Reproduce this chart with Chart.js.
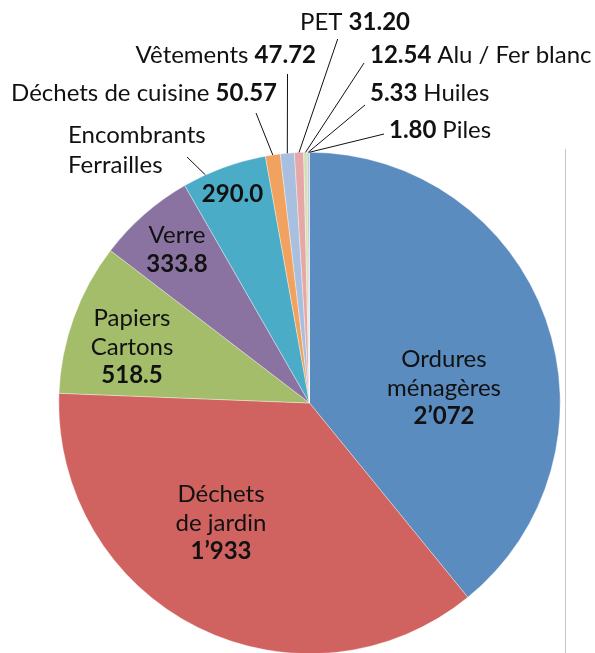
<!DOCTYPE html>
<html>
<head>
<meta charset="utf-8">
<script src="https://cdn.jsdelivr.net/npm/chart.js@4"></script>
<style>
	html, body { margin: 0; padding: 0; background: #fff; overflow: hidden; }
	canvas { display: block; }
</style>
</head>
<body>
<canvas id="camembert" width="595" height="655"></canvas>
<script>
// donnees (tonnes)
const categories = ['Ordures\nménagères', 'Déchets\nde jardin', 'Papiers\nCartons', 'Verre', 'Encombrants\nFerrailles',
	'Déchets de cuisine', 'Vêtements', 'PET', 'Alu / Fer blanc', 'Huiles', 'Piles'];
const values = [2072, 1933, 518.5, 333.8, 290.0, 50.57, 47.72, 31.20, 12.54, 5.33, 1.80];
const valueLabels = ['2’072', '1’933', '518.5', '333.8', '290.0', '50.57', '47.72', '31.20', '12.54', '5.33', '1.80'];
const colors = ['#5a8cbf', '#d0625f', '#a4bd6a', '#8a73a0', '#4aacc6', '#f0a25e',
	'#a9bfe0', '#e5a8a6', '#d2e0b4', '#b9a9cc', '#93cddd'];

// placement des etiquettes
const labelLayout = [
	{ mode: 'stack', x: 444, y: 367 },
	{ mode: 'stack', x: 221, y: 502 },
	{ mode: 'stack', x: 132, y: 326 },
	{ mode: 'stack', x: 177, y: 243 },
	{ mode: 'split', x: 68, y: 143, align: 'left', vx: 232.5, vy: 202, from: [187, 157], frac: 0.27 },
	{ mode: 'nameVal', x: 277, y: 101, align: 'right', from: [256, 113] },
	{ mode: 'nameVal', x: 316, y: 63, align: 'right', from: [287.5, 74] },
	{ mode: 'nameVal', x: 300, y: 30, align: 'left', from: [337.7, 39] },
	{ mode: 'valName', x: 370, y: 63, align: 'left', from: [364, 63] },
	{ mode: 'valName', x: 370, y: 101, align: 'left', from: [365, 105] },
	{ mode: 'valName', x: 389, y: 138, align: 'left', from: [384, 134] },
];

const FONT_SIZE = 24;
const LINE_H = 28.5;
const fontOf = (bold) => (bold ? 'bold ' : '') + FONT_SIZE + 'px Lato';

function drawRuns(ctx, runs, x, y, align) {
	let total = 0;
	runs.forEach(r => { ctx.font = fontOf(r.b); total += ctx.measureText(r.t).width; });
	let cx = align === 'left' ? x : align === 'right' ? x - total : x - total / 2;
	runs.forEach(r => {
		ctx.font = fontOf(r.b);
		ctx.fillText(r.t, cx, y);
		cx += ctx.measureText(r.t).width;
	});
}

const labelsPlugin = {
	id: 'labelsPlugin',
	afterDraw(chart) {
		const ctx = chart.ctx;
		const arcs = chart.getDatasetMeta(0).data;
		ctx.save();
		// trait vertical gris a droite
		ctx.strokeStyle = '#c8c8c8';
		ctx.lineWidth = 1;
		ctx.beginPath();
		ctx.moveTo(565.5, 149);
		ctx.lineTo(565.5, 655);
		ctx.stroke();

		ctx.fillStyle = '#111';
		ctx.textBaseline = 'alphabetic';
		labelLayout.forEach((lay, i) => {
			const arc = arcs[i];
			const name = categories[i].split('\n');
			const val = valueLabels[i];
			if (lay.from) {
				const f = lay.frac === undefined ? 0.5 : lay.frac;
				const a = arc.startAngle + (arc.endAngle - arc.startAngle) * f;
				ctx.strokeStyle = '#111';
				ctx.lineWidth = 1;
				ctx.beginPath();
				ctx.moveTo(lay.from[0], lay.from[1]);
				ctx.lineTo(arc.x + arc.outerRadius * Math.cos(a), arc.y + arc.outerRadius * Math.sin(a));
				ctx.stroke();
			}
			if (lay.mode === 'stack') {
				name.forEach((t, k) => drawRuns(ctx, [{ t, b: false }], lay.x, lay.y + k * LINE_H, 'center'));
				drawRuns(ctx, [{ t: val, b: true }], lay.x, lay.y + name.length * LINE_H, 'center');
			} else if (lay.mode === 'split') {
				name.forEach((t, k) => drawRuns(ctx, [{ t, b: false }], lay.x, lay.y + k * 30, lay.align));
				drawRuns(ctx, [{ t: val, b: true }], lay.vx, lay.vy, 'center');
			} else if (lay.mode === 'nameVal') {
				drawRuns(ctx, [{ t: name[0] + ' ', b: false }, { t: val, b: true }], lay.x, lay.y, lay.align);
			} else {
				drawRuns(ctx, [{ t: val + ' ', b: true }, { t: name[0], b: false }], lay.x, lay.y, lay.align);
			}
		});
		ctx.restore();
	}
};

new Chart(document.getElementById('camembert'), {
	type: 'pie',
	data: {
		labels: categories,
		datasets: [{
			data: values,
			backgroundColor: colors,
			borderColor: 'rgba(255,255,255,0.6)',
			borderWidth: 0.6
		}]
	},
	options: {
		responsive: false,
		animation: false,
		devicePixelRatio: 1,
		layout: { padding: { left: 58.5, right: 34.5, top: 152, bottom: 1 } },
		plugins: {
			legend: { display: false },
			tooltip: { enabled: false }
		}
	},
	plugins: [labelsPlugin]
});
</script>
</body>
</html>
